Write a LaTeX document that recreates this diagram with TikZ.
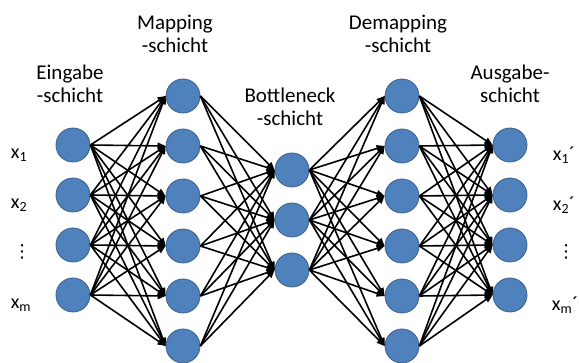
\documentclass[tikz,border=0pt]{standalone}
\usepackage{fontspec}
\setmainfont{Carlito}
\newfontfamily\dotsfont{DejaVu Sans}
\usetikzlibrary{arrows.meta}

\tikzset{
    neuron/.style={circle, draw=neuronborder, fill=neuronfill, line width=0.8pt,
        minimum size=34pt, inner sep=0pt},
    link/.style={-{Triangle[length=8pt,width=6.5pt]}, line width=1.6pt, black},
    layertitle/.style={align=center, font=\fontsize{21}{23.5}\selectfont},
    varlabel/.style={inner sep=0pt, font=\fontsize{20}{22}\selectfont}
}
\definecolor{neuronfill}{HTML}{4F81BD}
\definecolor{neuronborder}{HTML}{3A5F8B}

\begin{document}
\begin{tikzpicture}[x=1pt,y=-1pt]

\useasboundingbox (0,0) rectangle (579,363);

% Layers
\foreach \i/\y in {1/145,2/195,3/245,4/295}
    \node[neuron] (in\i) at (73,\y) {};
\foreach \i/\y in {1/96,2/146,3/196,4/246,5/296,6/346}
    \node[neuron] (map\i) at (183,\y) {};
\foreach \i/\y in {1/170,2/220,3/270}
    \node[neuron] (bn\i) at (292,\y) {};
\foreach \i/\y in {1/96,2/146,3/196,4/246,5/296,6/346}
    \node[neuron] (dem\i) at (402,\y) {};
\foreach \i/\y in {1/145,2/195,3/245,4/295}
    \node[neuron] (out\i) at (510,\y) {};

% Connections
\foreach \a in {1,...,4}
    \foreach \b in {1,...,6}
        \draw[link] (in\a.east) -- (map\b.west);
\foreach \a in {1,...,6}
    \foreach \b in {1,...,3}
        \draw[link] (map\a.east) -- (bn\b.west);
\foreach \a in {1,...,3}
    \foreach \b in {1,...,6}
        \draw[link] (bn\a.east) -- (dem\b.west);
\foreach \a in {1,...,6}
    \foreach \b in {1,...,4}
        \draw[link] (dem\a.east) -- (out\b.west);

% Titles
\node[layertitle] (tin)  at (70,84)  {Eingabe\\-schicht};
\node[layertitle] (tmap) at (175,34) {Mapping\\-schicht};
\node[layertitle] (tbn)  at (290,107) {Bottleneck\\-schicht};
\node[layertitle] (tdem) at (398,34) {Demapping\\-schicht};
\node[layertitle] (tout) at (510,84) {Ausgabe-\\schicht};

% Inputs and outputs
\node[varlabel] (x1) at (19,155) {x\textsubscript{1}};
\node[varlabel] (x2) at (19,205) {x\textsubscript{2}};
\node[varlabel, font=\dotsfont\fontsize{18}{20}\selectfont] (xd) at (22,252) {⋮};
\node[varlabel] (xm) at (21,305) {x\textsubscript{m}};
\node[varlabel] (y1) at (564,155) {x\textsubscript{1}´};
\node[varlabel] (y2) at (564,205) {x\textsubscript{2}´};
\node[varlabel, font=\dotsfont\fontsize{18}{20}\selectfont] (yd) at (566,252) {⋮};
\node[varlabel] (ym) at (565,305) {x\textsubscript{m}´};

\end{tikzpicture}
\end{document}
